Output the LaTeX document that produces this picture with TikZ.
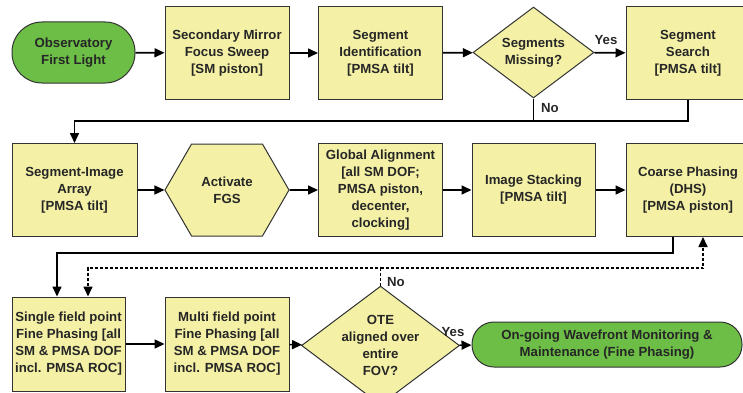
\documentclass[tikz,border=0pt]{standalone}
\usepackage{fontspec}
\setmainfont{Liberation Sans}
\usepackage{tikz}
\usetikzlibrary{shapes.geometric,shapes.symbols,arrows.meta}
\definecolor{boxyellow}{RGB}{244,241,166}
\definecolor{startgreen}{RGB}{108,190,70}
\definecolor{rim}{RGB}{50,50,50}
\tikzstyle{base} = [draw=rim,line width=1pt,align=center,inner sep=1pt,
  font=\bfseries\fontsize{13.2}{17}\selectfont,text=black!85]
\tikzstyle{stepbox} = [base,fill=boxyellow,minimum width=124pt,minimum height=93pt]
\tikzstyle{decide} = [base,fill=boxyellow,diamond,aspect=1.33,inner sep=0pt,
  minimum width=121pt,minimum height=91pt]
\tikzstyle{term} = [base,fill=startgreen,rounded corners=30pt]
\tikzstyle{link} = [draw,line width=1.6pt,-{Triangle[length=10pt,width=9pt]}]
\tikzstyle{joint} = [draw,line width=1.6pt]
\tikzstyle{dashlink} = [link,dash pattern=on 3pt off 2pt]
\tikzstyle{lbl} = [font=\bfseries\fontsize{13.2}{15}\selectfont,text=black!85,inner sep=1pt]

\begin{document}
\begin{tikzpicture}[x=1pt,y=1pt]
    \useasboundingbox (0,0) rectangle (743,392);
    \clip (0,0) rectangle (743,392);

    % first row
    \node[term,minimum width=123pt,minimum height=61pt] (fl) at (73.5,339.5) {Observatory\\First Light};
    \node[stepbox] (sm) at (227,339) {Secondary Mirror\\Focus Sweep\\{[SM piston]}};
    \node[stepbox] (sid) at (380.5,339) {Segment\\Identification\\{[PMSA tilt]}};
    \node[decide] (miss) at (533.5,339.5) {Segments\\Missing?};
    \node[stepbox] (ss) at (688,339) {Segment\\Search\\{[PMSA tilt]}};

    % second row
    \node[stepbox,minimum width=125pt] (sia) at (74.5,202) {Segment-Image\\Array\\{[PMSA tilt]}};
    \node[base,fill=boxyellow,signal,signal to=west and east,signal pointer angle=120,
      minimum width=124pt,minimum height=92pt] (fgs) at (227,202) {Activate\\FGS};
    \node[stepbox] (ga) at (380.5,202) {Global Alignment\\{[all SM DOF;}\\PMSA piston,\\decenter,\\clocking]};
    \node[stepbox,minimum width=123pt] (ist) at (533.5,202) {Image Stacking\\{[PMSA tilt]}};
    \node[stepbox] (cp) at (688,202) {Coarse Phasing\\(DHS)\\{[PMSA piston]}};

    % third row
    \node[stepbox,minimum width=113pt,minimum height=94pt] (sfp) at (68.5,48) {Single field point\\Fine Phasing [all\\SM \& PMSA DOF\\incl. PMSA ROC]};
    \node[stepbox,minimum height=94pt] (mfp) at (227,48) {Multi field point\\Fine Phasing [all\\SM \& PMSA DOF\\incl. PMSA ROC]};
    \node[decide] (ote) at (380.5,46.5) {OTE\\aligned over\\entire\\FOV?};
    \node[term,rounded corners=22pt,minimum width=270pt,minimum height=45pt] (og) at (607,47.5) {On-going Wavefront Monitoring \&\\Maintenance (Fine Phasing)};

    \coordinate (r1) at (74.5,271);
    \coordinate (r2) at (57,139);
    \coordinate (r3) at (88,124);
    \coordinate (r4) at (703,124);
    \coordinate (cpout) at (673,155.5);

    \draw[link] (fl) -- (sm);
    \draw[link] (sm) -- (sid);
    \draw[link] (sid) -- (miss);
    \draw[link] (miss) -- (ss);
    \draw[link] (ss.south) |- (r1) -- (sia.north);
    \draw[joint] (miss.south) -- (miss.south |- r1);

    \draw[link] (sia) -- (fgs);
    \draw[link] (fgs) -- (ga);
    \draw[link] (ga) -- (ist);
    \draw[link] (ist) -- (cp);
    \draw[link] (cpout) |- (r2) -- (r2 |- sfp.north);

    \draw[link] (sfp) -- (mfp);
    \draw[link] (mfp) -- (ote);
    \draw[link] (ote) -- (og);
    \draw[dashlink] (ote.north) -- (ote.north |- r3) -- (r3) -- (r3 |- sfp.north);
    \draw[dashlink] (ote.north |- r4) -- (r4) -- (r4 |- cp.south);

    \node[lbl] (yes1) at (606,352) {Yes};
    \node[lbl] (no1) at (550,284) {No};
    \node[lbl] (no2) at (396,110) {No};
    \node[lbl] (yes2) at (453,60) {Yes};
\end{tikzpicture}
\end{document}
